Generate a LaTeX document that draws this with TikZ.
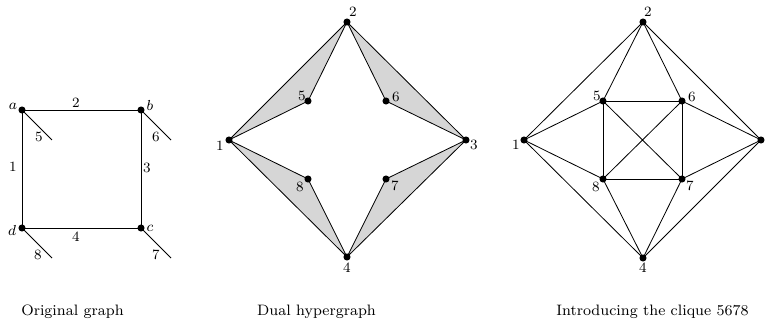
\documentclass[tikz,border=0pt]{standalone}
\begin{document}
\begin{tikzpicture}[x=0.55pt,y=-0.55pt,
  dot/.style={circle,fill=black,inner sep=0pt,minimum size=3.9pt},
  lbl/.style={inner sep=0pt,font=\fontsize{7.8}{9}\selectfont},
  caption/.style={inner sep=0pt,font=\fontsize{8.3}{10}\selectfont},
  edge/.style={draw=black,line width=0.45pt},
  hyper/.style={fill=black!16,draw=black,line width=0.45pt,line join=round}]
\useasboundingbox (0,0) rectangle (766,326);

% ---------- Original graph ----------
\coordinate (a) at (22,110);
\coordinate (b) at (141,110);
\coordinate (c) at (141,228);
\coordinate (d) at (22,228);
\coordinate (ea) at (52,140);
\coordinate (eb) at (171,140);
\coordinate (ec) at (171,258);
\coordinate (ed) at (52,258);
\draw[edge] (a) -- (b) -- (c) -- (d) -- cycle;
\draw[edge] (a) -- (ea) (b) -- (eb) (c) -- (ec) (d) -- (ed);
\foreach \v in {a,b,c,d} \node[dot] (dot\v) at (\v) {};
\node[lbl] (la) at (13,106) {$a$};
\node[lbl] (lb) at (150,105) {$b$};
\node[lbl] (lc) at (150,228) {$c$};
\node[lbl] (ld) at (12,230) {$d$};
\node[lbl] (e2) at (76,103) {2};
\node[lbl] (e1) at (13,167) {1};
\node[lbl] (e3) at (147,168) {3};
\node[lbl] (e4) at (76,237) {4};
\node[lbl] (e5) at (39,137) {5};
\node[lbl] (e6) at (156,137) {6};
\node[lbl] (e7) at (156,255) {7};
\node[lbl] (e8) at (38,255) {8};
\node[caption] (cap1) at (72.5,312) {Original graph};

% ---------- Dual hypergraph ----------
\coordinate (h1) at (229,140);
\coordinate (h2) at (347,22);
\coordinate (h3) at (466,140);
\coordinate (h4) at (347,257);
\coordinate (h5) at (308,101);
\coordinate (h6) at (386,101);
\coordinate (h7) at (386,179);
\coordinate (h8) at (308,179);
\draw[hyper] (h1) -- (h2) -- (h5) -- cycle;
\draw[hyper] (h2) -- (h3) -- (h6) -- cycle;
\draw[hyper] (h3) -- (h4) -- (h7) -- cycle;
\draw[hyper] (h4) -- (h1) -- (h8) -- cycle;
\foreach \v in {1,...,8} \node[dot] (hd\v) at (h\v) {};
\node[lbl] (hl1) at (220,146) {1};
\node[lbl] (hl2) at (353,12) {2};
\node[lbl] (hl3) at (474,145) {3};
\node[lbl] (hl4) at (347,268) {4};
\node[lbl] (hl5) at (302,96) {5};
\node[lbl] (hl6) at (396,97) {6};
\node[lbl] (hl7) at (395,186) {7};
\node[lbl] (hl8) at (300,187) {8};
\node[caption] (cap2) at (316.5,312) {Dual hypergraph};

% ---------- Clique 5678 ----------
\coordinate (k1) at (524,140);
\coordinate (k2) at (643,22);
\coordinate (k3) at (761,140);
\coordinate (k4) at (643,258);
\coordinate (k5) at (603,101);
\coordinate (k6) at (682,101);
\coordinate (k7) at (682,179);
\coordinate (k8) at (603,179);
\draw[edge] (k1) -- (k2) -- (k3) -- (k4) -- cycle;
\draw[edge] (k2) -- (k5) (k2) -- (k6);
\draw[edge] (k1) -- (k5) (k1) -- (k8);
\draw[edge] (k3) -- (k6) (k3) -- (k7);
\draw[edge] (k4) -- (k7) (k4) -- (k8);
\draw[edge] (k5) -- (k6) -- (k7) -- (k8) -- cycle;
\draw[edge] (k5) -- (k7) (k6) -- (k8);
\foreach \v in {1,...,8} \node[dot] (kd\v) at (k\v) {};
\node[lbl] (kl1) at (516,145) {1};
\node[lbl] (kl2) at (648,12) {2};
\node[lbl] (kl4) at (643,268) {4};
\node[lbl] (kl5) at (597,96) {5};
\node[lbl] (kl6) at (692,97) {6};
\node[lbl] (kl7) at (690,186) {7};
\node[lbl] (kl8) at (596,187) {8};
\node[caption,anchor=east] (cap3) at (749,312) {Introducing the clique 5678};
\end{tikzpicture}
\end{document}
